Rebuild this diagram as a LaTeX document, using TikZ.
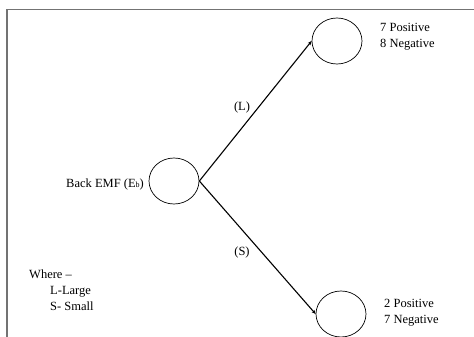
\documentclass[tikz,border=0pt]{standalone}
\usepackage{fontspec}
\setmainfont{Liberation Serif}
\usetikzlibrary{shapes.geometric,arrows.meta}
\begin{document}
\begin{tikzpicture}[x=1pt,y=-1pt,
  state/.style={draw,ellipse,line width=0.7pt,minimum width=50pt,minimum height=46pt,inner sep=0pt},
  link/.style={line width=1.1pt,-{Stealth[length=4pt,width=3.5pt]}},
  frame/.style={line width=1.4pt,black!55},
  txt/.style={inner sep=0pt,font=\fontsize{12.5}{16}\selectfont,align=left}]
  \useasboundingbox (0,0) rectangle (474,337);
  % frame
  \draw[frame] (474,9.8) -- (6.8,9.8) -- (6.8,337);
  % states
  \node[state] (c0) at (174,181) {};
  \node[state] (cL) at (337,41) {};
  \node[state] (cS) at (341,314) {};
  % transitions
  \draw[link] (c0.east) -- (cL.west);
  \draw[link] (c0.east) -- (cS.west);
  % labels
  \node[txt,anchor=east] (lb0) at (144,184) {Back EMF (E{\fontsize{8}{8}\selectfont b})};
  \node[txt] (lL) at (242,107) {(L)};
  \node[txt] (lS) at (242,252) {(S)};
  \node[txt,anchor=west] (tL) at (380,37) {7 Positive\\8 Negative};
  \node[txt,anchor=west] (tS) at (384,313) {2 Positive\\7 Negative};
  \node[txt,anchor=north west] (key) at (29,270) {Where --\\\hspace*{21pt}L-Large\\\hspace*{21pt}S- Small};
\end{tikzpicture}
\end{document}
